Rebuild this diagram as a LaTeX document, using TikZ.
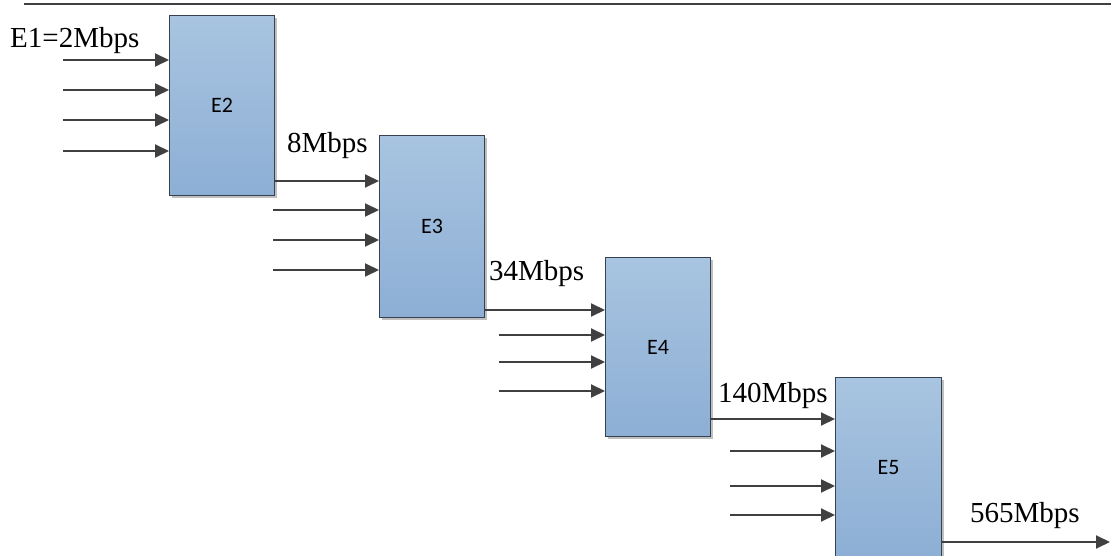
\documentclass[tikz,border=0pt]{standalone}
\usepackage{fontspec}
\setmainfont{Liberation Serif}
\newfontfamily\calfont{Carlito}
\usetikzlibrary{arrows.meta,shadows}
\definecolor{boxtop}{RGB}{168,196,224}
\definecolor{boxbot}{RGB}{141,175,213}
\definecolor{boxline}{RGB}{55,66,80}
\definecolor{arrcol}{RGB}{64,64,64}
\tikzset{
  mux/.style={draw=boxline, line width=1.1pt, top color=boxtop, bottom color=boxbot,
    minimum width=105pt, minimum height=180pt, anchor=north west, inner sep=0pt,
    font=\calfont\fontsize{22}{26}\selectfont,
    drop shadow={shadow xshift=2pt, shadow yshift=-2pt, opacity=0.25, fill=black}},
  arr/.style={draw=arrcol, line width=2pt, -{Triangle[length=14pt,width=13pt]}},
  rate/.style={anchor=base west, inner sep=0pt, font=\fontsize{29}{34}\selectfont}
}
\begin{document}
\begin{tikzpicture}[x=1pt,y=-1pt]
\useasboundingbox (0,0) rectangle (1111,556);
\fill[white] (0,0) rectangle (1111,556);
% top rule
\coordinate (tl) at (24,4);
\coordinate (tr) at (1111,4);
\draw[line width=2pt, draw=arrcol] (tl) -- (tr);
% boxes
\node[mux] (E2) at (169,15) {E2};
\node[mux, minimum height=182pt] (E3) at (379,135) {E3};
\node[mux, minimum height=179pt] (E4) at (605,257) {E4};
\node[mux, minimum width=106pt] (E5) at (835,377) {E5};
% labels
\node[rate] (l1) at (10,48) {E1=2Mbps};
\node[rate] (l2) at (287,153) {8Mbps};
\node[rate] (l3) at (489,280) {34Mbps};
\node[rate] (l4) at (718,402) {140Mbps};
\node[rate] (l5) at (970,522) {565Mbps};
% E2 inputs
\foreach \y [count=\i] in {60,90,120,151}{
  \coordinate (a\i) at (63,\y);
  \draw[arr] (a\i) -- (a\i -| E2.west);
}
% E3 inputs
\coordinate (b1) at (0,181);
\draw[arr] (b1 -| E2.east) -- (b1 -| E3.west);
\foreach \y [count=\i from 2] in {210,240,270}{
  \coordinate (b\i) at (273,\y);
  \draw[arr] (b\i) -- (b\i -| E3.west);
}
% E4 inputs
\coordinate (c1) at (0,310);
\draw[arr] (c1 -| E3.east) -- (c1 -| E4.west);
\foreach \y [count=\i from 2] in {335,362,391}{
  \coordinate (c\i) at (499,\y);
  \draw[arr] (c\i) -- (c\i -| E4.west);
}
% E5 inputs
\coordinate (d1) at (0,419);
\draw[arr] (d1 -| E4.east) -- (d1 -| E5.west);
\foreach \y [count=\i from 2] in {451,486,515}{
  \coordinate (d\i) at (730,\y);
  \draw[arr] (d\i) -- (d\i -| E5.west);
}
% output
\coordinate (out) at (1110,542);
\draw[arr] (out -| E5.east) -- (out);
\end{tikzpicture}
\end{document}
